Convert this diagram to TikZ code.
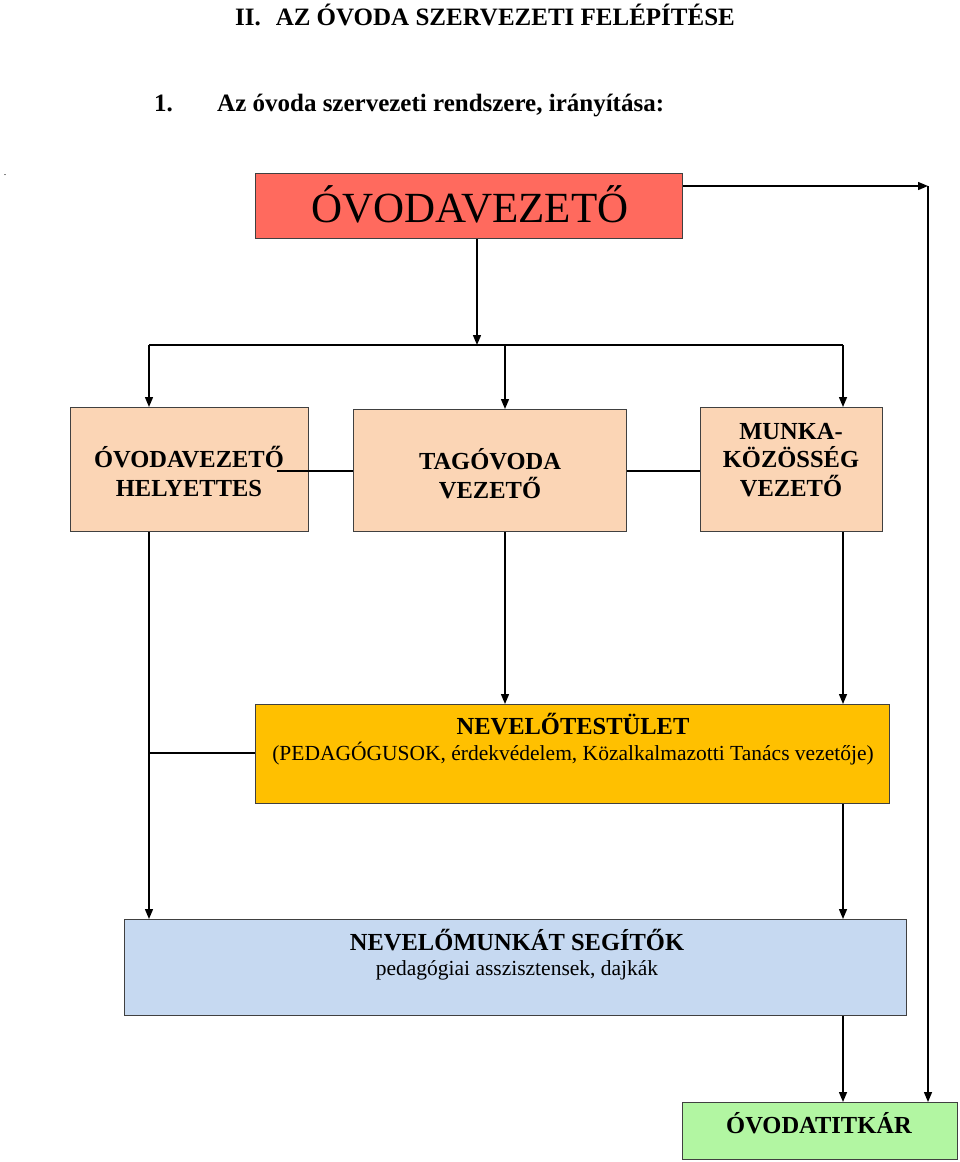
\documentclass[tikz,border=0pt]{standalone}
\usepackage{fontspec}
\setmainfont{Liberation Serif}
\usetikzlibrary{arrows.meta}
\definecolor{cred}{HTML}{FF6A5E}
\definecolor{cpeach}{HTML}{FBD5B5}
\definecolor{cgold}{HTML}{FFC000}
\definecolor{cblue}{HTML}{C6D9F1}
\definecolor{cgreen}{HTML}{B2F6A2}
\begin{document}
\begin{tikzpicture}[x=1pt,y=-1pt,
  box/.style={draw=black!75, line width=1pt, inner sep=0pt, anchor=north west},
  conn/.style={line width=1.4pt, draw=black},
  arr/.style={conn, -{Triangle[length=10pt,width=8pt]}},
  bt/.style={anchor=base, inner sep=0pt, font=\bfseries\fontsize{24.5}{29}\selectfont},
  rt/.style={anchor=base, inner sep=0pt, font=\fontsize{21.5}{26}\selectfont},
  hd/.style={anchor=base, inner sep=0pt, font=\bfseries\fontsize{25}{30}\selectfont}]
\useasboundingbox (0,0) rectangle (960,1162);

% headings
\node[hd] (title) at (485,25) {II.\hspace{0.6em}AZ ÓVODA SZERVEZETI FELÉPÍTÉSE};
\node[hd, anchor=base west] (num) at (154,111) {1.};
\node[hd, anchor=base west] (sub) at (217,111) {Az óvoda szervezeti rendszere, irányítása:};
\node[anchor=base, inner sep=0pt, font=\fontsize{10}{10}\selectfont] (dot) at (5,175) {.};

% boxes
\node[box, fill=cred, minimum width=427pt, minimum height=65pt] (top) at (255,173) {};
\node[anchor=base, inner sep=0pt, font=\fontsize{43}{50}\selectfont] (topt) at (470,222) {ÓVODAVEZETŐ};

\node[box, fill=cpeach, minimum width=238pt, minimum height=124pt] (b1) at (70,407) {};
\node[box, fill=cpeach, minimum width=273pt, minimum height=122pt] (b2) at (353,409) {};
\node[box, fill=cpeach, minimum width=182pt, minimum height=124pt] (b3) at (700,407) {};

\node[box, fill=cgold, minimum width=634pt, minimum height=99pt] (nt) at (255,704) {};
\node[box, fill=cblue, minimum width=782pt, minimum height=96pt] (ns) at (124,919) {};
\node[box, fill=cgreen, minimum width=275pt, minimum height=57pt] (ti) at (682,1102) {};

% connector coordinates
\coordinate (c1) at (928,186);
\coordinate (jn) at (477,345);
\coordinate (bl) at (149,345);
\coordinate (bm) at (505,345);
\coordinate (br) at (843,345);
\coordinate (h1) at (277,471);
\coordinate (h2) at (149,753);

% connectors
\draw[arr] (top.north east |- c1) -- (c1);
\draw[arr] (c1) -- (c1 |- ti.north);
\draw[arr] (jn |- top.south) -- (jn);
\draw[conn] (bl) -- (br);
\draw[arr] (bl) -- (bl |- b1.north);
\draw[arr] (bm) -- (bm |- b2.north);
\draw[arr] (br) -- (br |- b3.north);
\draw[conn] (h1) -- (h1 -| b2.west);
\draw[conn] (b2.east |- h1) -- (b3.west |- h1);
\draw[arr] (bl |- b1.south) -- (bl |- ns.north);
\draw[conn] (h2) -- (h2 -| nt.west);
\draw[arr] (bm |- b2.south) -- (bm |- nt.north);
\draw[arr] (br |- b3.south) -- (br |- nt.north);
\draw[arr] (br |- nt.south) -- (br |- ns.north);
\draw[arr] (br |- ns.south) -- (br |- ti.north);

% box texts
\node[bt] (b1a) at (189,467) {ÓVODAVEZETŐ};
\node[bt] (b1b) at (189,496) {HELYETTES};
\node[bt] (b2a) at (490,469) {TAGÓVODA};
\node[bt] (b2b) at (490,498) {VEZETŐ};
\node[bt] (b3a) at (791,439) {MUNKA-};
\node[bt] (b3b) at (791,467) {KÖZÖSSÉG};
\node[bt] (b3c) at (791,496) {VEZETŐ};
\node[bt] (nta) at (573,734) {NEVELŐTESTÜLET};
\node[rt] (ntb) at (573,760) {(PEDAGÓGUSOK, érdekvédelem, Közalkalmazotti Tanács vezetője)};
\node[bt] (nsa) at (517,950) {NEVELŐMUNKÁT SEGÍTŐK};
\node[rt] (nsb) at (517,975) {pedagógiai asszisztensek, dajkák};
\node[bt] (tia) at (819,1133) {ÓVODATITKÁR};
\end{tikzpicture}
\end{document}
